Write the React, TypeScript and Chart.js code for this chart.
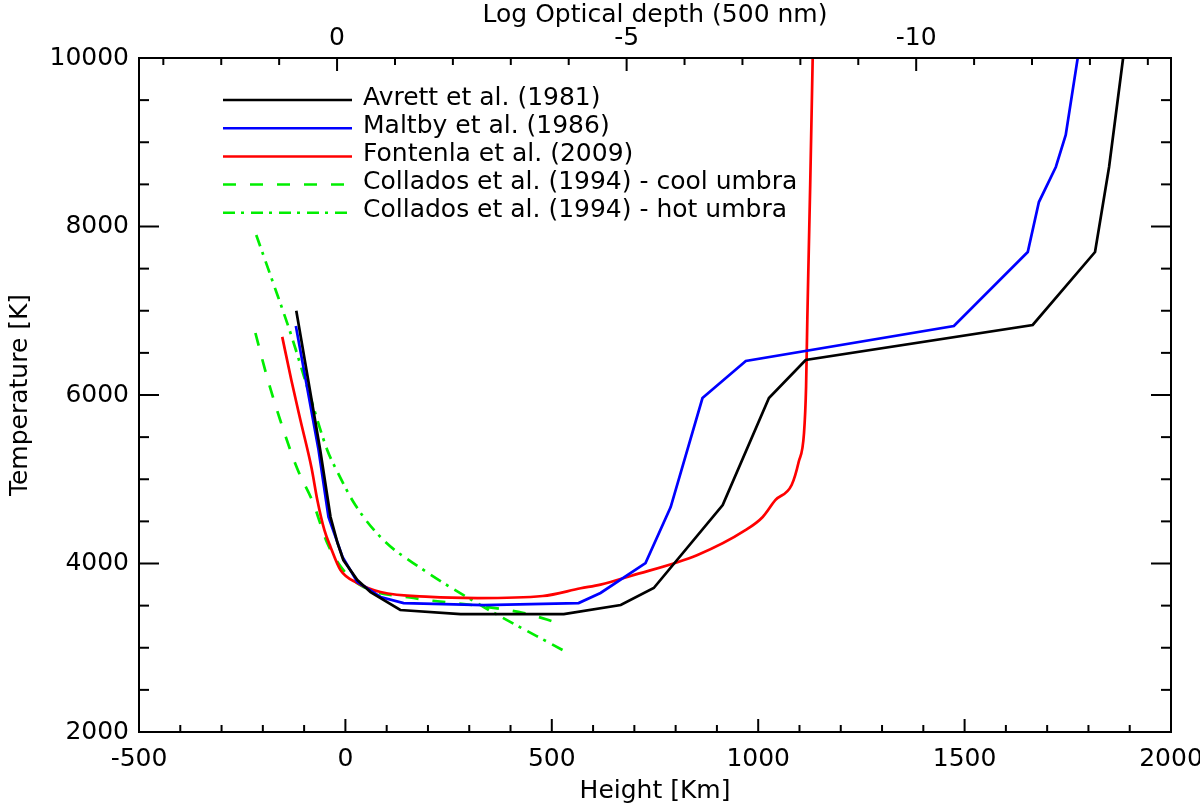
import React, { useEffect, useRef } from "react";
import { Chart, registerables } from "chart.js";

Chart.register(...registerables);

const FONT = "'DejaVu Sans', 'Liberation Sans', sans-serif";

// Avrett et al. (1981)
const avrettHeight = [-119, -61, -36, -19, -5, 29, 61, 133, 279, 529, 667, 747, 914, 1026, 1115, 1665, 1816, 1850, 1884];
const avrettTemp = [7000, 5347, 4552, 4243, 4041, 3804, 3661, 3448, 3400, 3400, 3507, 3709, 4694, 5964, 6415, 6831, 7697, 8706, 10000];

// Maltby et al. (1986)
const maltbyHeight = [-120, -65, -41, -7, 29, 85, 141, 335, 565, 618, 727, 788, 865, 970, 1474, 1653, 1680, 1721, 1745, 1774];
const maltbyTemp = [6820, 5347, 4552, 4077, 3781, 3603, 3530, 3507, 3530, 3650, 4005, 4670, 5964, 6404, 6819, 7697, 8290, 8706, 9086, 10000];

// Fontenla et al. (2009)
const fontenlaHeight = [-153, -131, -109, -82, -68, -51, -36, -12, 29, 85, 206, 320, 478, 570, 618, 691, 853, 970, 1011, 1042, 1081, 1098, 1111, 1116, 1119, 1122, 1126, 1132];
const fontenlaTemp = [6690, 6178, 5703, 5134, 4754, 4398, 4196, 3923, 3769, 3661, 3603, 3590, 3614, 3706, 3750, 3852, 4101, 4398, 4552, 4754, 4932, 5205, 5549, 6100, 6900, 7600, 8500, 10000];

// Collados et al. (1994) - cool umbra
const coolHeight = [-218, -190, -158, -117, -78, -44, -5, 44, 165, 327, 432, 516];
const coolTemp = [6736, 6217, 5703, 5130, 4718, 4243, 3922, 3721, 3590, 3495, 3412, 3293];

// Collados et al. (1994) - hot umbra
const hotHeight = [-216, -175, -133, -85, -44, -24, 24, 92, 182, 335, 526];
const hotTemp = [7899, 7330, 6736, 5976, 5347, 5133, 4694, 4279, 3947, 3484, 2973];

const heightTicks = [-500, 0, 500, 1000, 1500, 2000];
const tempTicks = [2000, 4000, 6000, 8000, 10000];
const tauTicks = [0, -5, -10];
const tauRange = [-14.4, 3.42];

const toPoints = (xs: number[], ys: number[]) => xs.map((x, i) => ({ x, y: ys[i] }));

const boxPlugin = {
  id: "idlBox",
  afterDraw(chart: any) {
    const { ctx, chartArea: a, scales } = chart;
    ctx.save();
    ctx.strokeStyle = "#000";
    ctx.lineWidth = 2;
    ctx.lineCap = "butt";
    ctx.strokeRect(a.left, a.top, a.right - a.left, a.bottom - a.top);

    const marks = (scale: any, majors: number[], step: number, horizontal: boolean, edges: [number, number][], majorLen: number, minorLen: number) => {
      const lo = Math.min(scale.min, scale.max);
      const hi = Math.max(scale.min, scale.max);
      const start = Math.ceil(lo / step - 1e-9);
      const end = Math.floor(hi / step + 1e-9);
      for (let i = start; i <= end; i++) {
        const v = i * step;
        const major = majors.some((m) => Math.abs(m - v) < 1e-6);
        const len = major ? majorLen : minorLen;
        const p = scale.getPixelForValue(v);
        for (const [edge, dir] of edges) {
          ctx.beginPath();
          if (horizontal) {
            ctx.moveTo(p, edge);
            ctx.lineTo(p, edge + dir * len);
          } else {
            ctx.moveTo(edge, p);
            ctx.lineTo(edge + dir * len, p);
          }
          ctx.stroke();
        }
      }
    };

    marks(scales.x, heightTicks, 100, true, [[a.bottom, -1]], 13, 7);
    marks(scales.x2, tauTicks, 1, true, [[a.top, 1]], 13, 7);
    marks(scales.y, tempTicks, 500, false, [[a.left, 1], [a.right, -1]], 20, 10);
    ctx.restore();
  },
};

const legendPlugin = {
  id: "idlLegend",
  afterDatasetsDraw(chart: any) {
    const { ctx, chartArea: a } = chart;
    const x0 = a.left + 84;
    const x1 = a.left + 213;
    ctx.save();
    ctx.font = `25px ${FONT}`;
    ctx.textBaseline = "middle";
    ctx.textAlign = "left";
    chart.data.datasets.forEach((ds: any, i: number) => {
      const y = a.top + 42 + i * 28.2;
      ctx.beginPath();
      ctx.setLineDash(ds.borderDash || []);
      ctx.strokeStyle = ds.borderColor;
      ctx.lineWidth = 2.5;
      ctx.moveTo(x0, y);
      ctx.lineTo(x1, y);
      ctx.stroke();
      ctx.setLineDash([]);
      ctx.fillStyle = "#000";
      ctx.fillText(ds.label, x1 + 11, y - 2);
    });
    ctx.restore();
  },
};

const tickFont = { family: FONT, size: 25 };

export default function App() {
  const canvasRef = useRef<HTMLCanvasElement>(null);

  useEffect(() => {
    if (!canvasRef.current) return;
    const chart = new Chart(canvasRef.current, {
      type: "line",
      data: {
        datasets: [
          { label: "Avrett et al. (1981)", data: toPoints(avrettHeight, avrettTemp), borderColor: "#000000" },
          { label: "Maltby et al. (1986)", data: toPoints(maltbyHeight, maltbyTemp), borderColor: "#0000ff" },
          { label: "Fontenla et al. (2009)", data: toPoints(fontenlaHeight, fontenlaTemp), borderColor: "#ff0000", cubicInterpolationMode: "monotone" },
          { label: "Collados et al. (1994) - cool umbra", data: toPoints(coolHeight, coolTemp), borderColor: "#00ee00", borderDash: [13, 14], cubicInterpolationMode: "monotone" },
          { label: "Collados et al. (1994) - hot umbra", data: toPoints(hotHeight, hotTemp), borderColor: "#00ee00", borderDash: [12, 6, 3, 7], cubicInterpolationMode: "monotone" },
        ],
      } as any,
      options: {
        animation: false,
        responsive: true,
        maintainAspectRatio: false,
        layout: { padding: { left: 0, top: 0, bottom: 0, right: 29 } },
        elements: {
          point: { radius: 0, hoverRadius: 0 },
          line: { borderWidth: 2.7, tension: 0, fill: false },
        },
        plugins: {
          legend: { display: false },
          tooltip: { enabled: false },
        },
        scales: {
          x: {
            type: "linear",
            position: "bottom",
            min: -500,
            max: 2000,
            grid: { display: false },
            border: { display: false },
            ticks: {
              stepSize: 500,
              autoSkip: false,
              maxRotation: 0,
              padding: 4,
              color: "#000",
              font: tickFont,
              callback: (v: any) => String(v),
            },
            title: { display: true, text: "Height [Km]", color: "#000", font: tickFont, padding: { top: 0, bottom: 4 } },
            afterFit: (s: any) => {
              s.height = 78;
              s.paddingLeft = 0;
              s.paddingRight = 0;
            },
          },
          x2: {
            type: "linear",
            position: "top",
            reverse: true,
            min: tauRange[0],
            max: tauRange[1],
            grid: { display: false },
            border: { display: false },
            ticks: {
              stepSize: 5,
              includeBounds: false,
              autoSkip: false,
              maxRotation: 0,
              padding: -3,
              color: "#000",
              font: tickFont,
              callback: (v: any) => String(v),
            },
            title: { display: true, text: "Log Optical depth (500 nm)", color: "#000", font: tickFont, padding: { top: 0, bottom: 0 } },
            afterFit: (s: any) => {
              s.height = 58;
              s.paddingLeft = 0;
              s.paddingRight = 0;
            },
          },
          y: {
            type: "linear",
            position: "left",
            min: 2000,
            max: 10000,
            grid: { display: false },
            border: { display: false },
            ticks: {
              stepSize: 2000,
              autoSkip: false,
              padding: 2,
              color: "#000",
              font: tickFont,
              callback: (v: any) => String(v),
            },
            title: { display: true, text: "Temperature [K]", color: "#000", font: tickFont, padding: { top: 5, bottom: 0 } },
            afterFit: (s: any) => {
              s.width = 139;
              s.paddingTop = 0;
              s.paddingBottom = 0;
            },
          },
        },
      } as any,
      plugins: [boxPlugin, legendPlugin],
    });
    return () => chart.destroy();
  }, []);

  return (
    <div style={{ position: "absolute", left: 0, top: 0, width: 1200, height: 810, background: "#fff" }}>
      <canvas ref={canvasRef} />
    </div>
  );
}
